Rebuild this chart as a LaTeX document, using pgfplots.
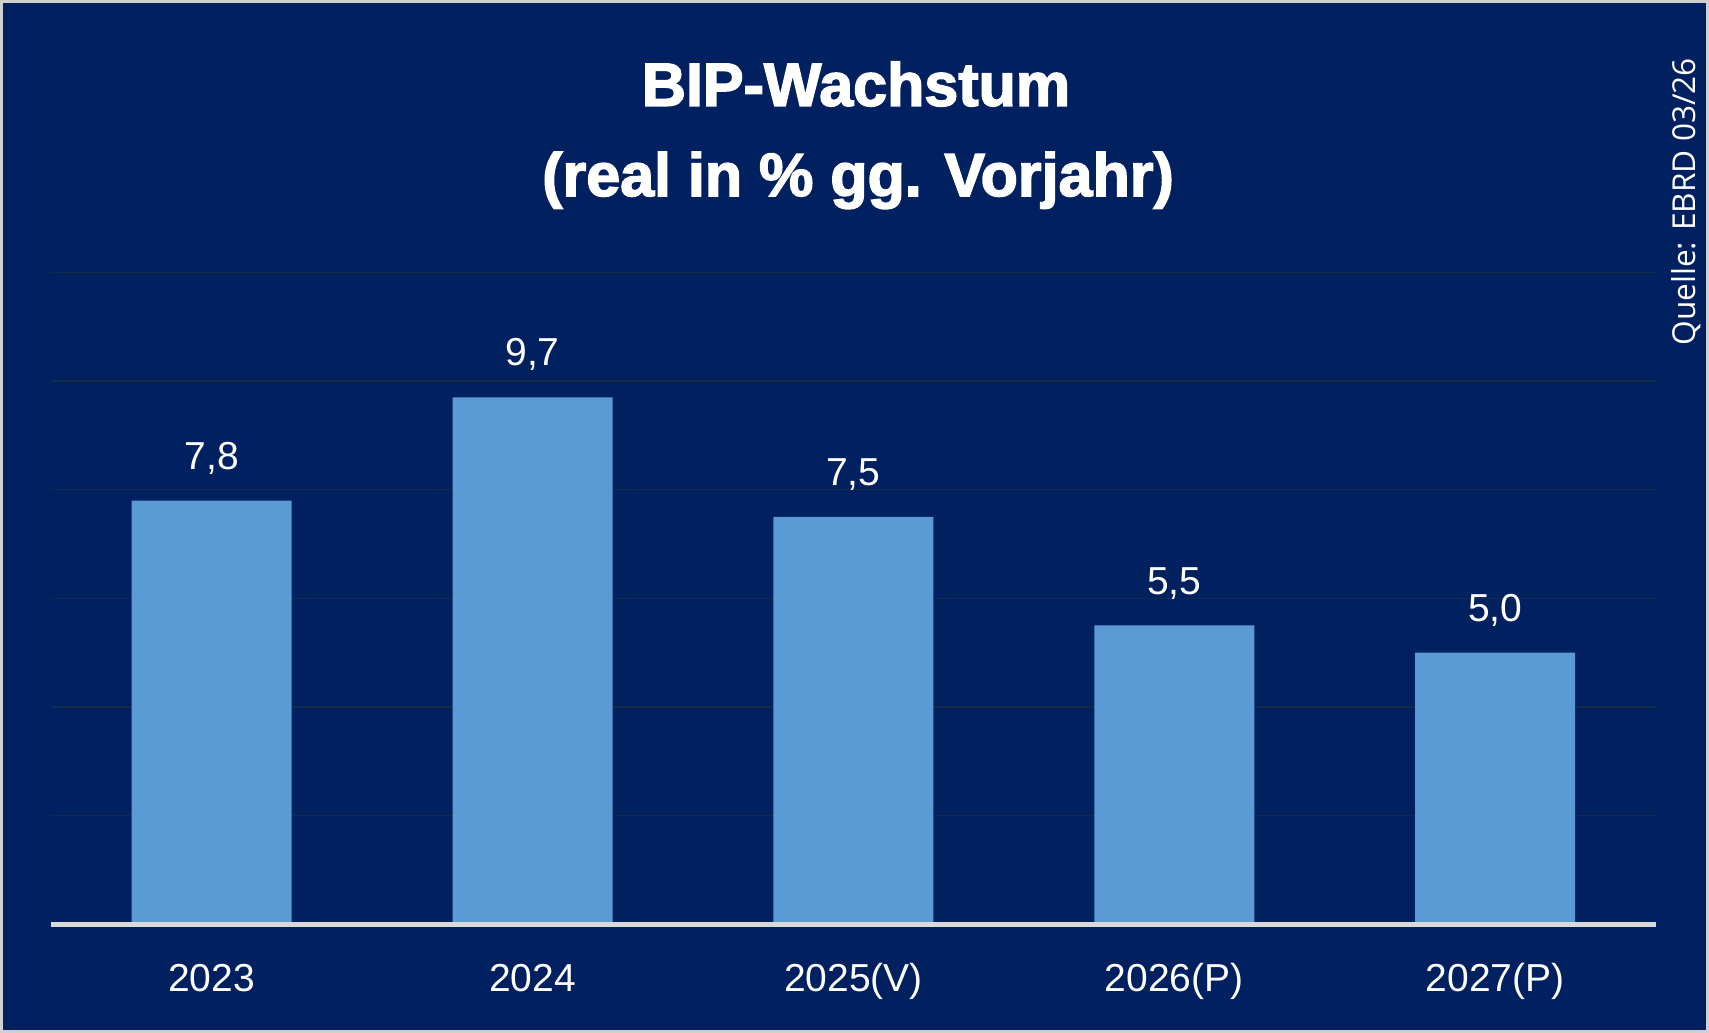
\documentclass[border=0pt]{standalone}
\usepackage{fontspec}
\setmainfont{Liberation Sans}
\newfontfamily\titlefont{Liberation Sans}[BoldFeatures={FakeBold=2.5}]
\newfontfamily\srcfont{Open Sans}
\usepackage{pgfplots}
\pgfplotsset{compat=1.18}
\definecolor{navy}{HTML}{002060}
\definecolor{barc}{HTML}{5B9BD5}
\definecolor{gridc}{HTML}{142B45}
\definecolor{basec}{HTML}{D9D9D9}
\definecolor{framec}{HTML}{D0D0D0}
\begin{document}
\begin{tikzpicture}
\fill[framec] (0,0) rectangle (854.5pt,516.5pt);
\fill[navy] (1.5pt,1.5pt) rectangle (853pt,515pt);
\node[text=white, anchor=base, inner sep=0pt, font=\titlefont\bfseries\fontsize{30.5}{36}\selectfont] at (428pt,463.6pt) {BIP-Wachstum};
\node[text=white, anchor=base, inner sep=0pt, font=\titlefont\bfseries\fontsize{30.5}{36}\selectfont] at (429pt,418.5pt) {(real in \% gg. Vorjahr)};
\node[text=white, anchor=base west, inner sep=0pt, rotate=90, font=\srcfont\fontsize{15.8}{18}\selectfont] at (847.5pt,343.5pt) {Quelle: EBRD 03/26};
\begin{axis}[
  at={(25.6pt,54.4pt)}, anchor=south west,
  scale only axis, width=802.2pt, height=325.9pt,
  xmin=-0.5, xmax=4.5, ymin=0, ymax=12,
  clip=false,
  axis line style={draw=none},
  tick style={draw=none},
  ytick={2,4,6,8,10,12}, yticklabels={},
  ymajorgrids, grid style={color=gridc, line width=0.6pt},
  xtick={0,1,2,3,4},
  xticklabels={2023,2024,2025(V),2026(P),2027(P)},
  xticklabel style={text=white, anchor=base, inner sep=0pt, yshift=-29.6pt, font=\fontsize{19.5}{23}\selectfont},
  ybar, bar width=80pt,
  nodes near coords={\pgfmathprintnumber[fixed, fixed zerofill, precision=1, use comma, assume math mode=true]{\pgfplotspointmeta}},
  every node near coord/.append style={text=white, inner sep=0pt, text depth=0pt, anchor=south, yshift=15.5pt, font=\fontsize{19.5}{23}\selectfont},
]
\addplot[fill=barc, draw=none] coordinates {(0,7.8) (1,9.7) (2,7.5) (3,5.5) (4,5.0)};
\draw[color=basec, line width=2.4pt] (axis cs:-0.5,0) -- (axis cs:4.5,0);
\end{axis}
\end{tikzpicture}
\end{document}
